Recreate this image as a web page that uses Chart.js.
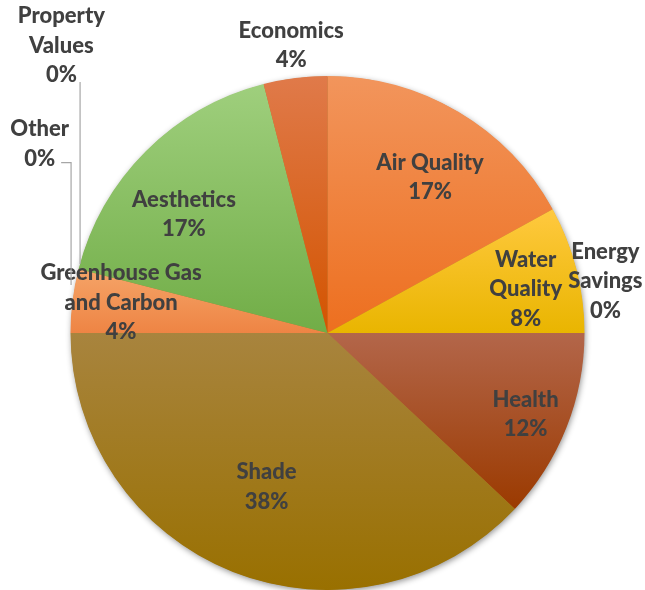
<!DOCTYPE html>
<html>
<head>
<meta charset="utf-8">
<script src="https://cdn.jsdelivr.net/npm/chart.js@4"></script>
<style>
  html, body { margin: 0; padding: 0; background: #fff; }
  #wrap { width: 645px; height: 590px; position: relative; }
</style>
</head>
<body>
<div id="wrap"><canvas id="benefitsPie"></canvas></div>
<script>
// Slices run clockwise from 12 o'clock
const categories = ['Air Quality', 'Water Quality', 'Energy Savings', 'Health', 'Shade',
  'Greenhouse Gas and Carbon', 'Other', 'Property Values', 'Aesthetics', 'Economics'];
const shares = [17, 8, 0, 12, 38, 4, 0, 0, 17, 4];
const labelLines = [
  ['Air Quality'], ['Water', 'Quality'], ['Energy', 'Savings'], ['Health'], ['Shade'],
  ['Greenhouse Gas', 'and Carbon'], ['Other'], ['Property', 'Values'], ['Aesthetics'], ['Economics']
];

// gradient stops, top of slice -> bottom of slice
const topColors = ['#f2955c', '#ffc93f', '#ffc000', '#b3664a', '#a8843e', '#f5a468', '#a5a5a5', '#4472c4', '#9fcf7d', '#e07a4a'];
const bottomColors = ['#ed6f1f', '#e9b500', '#e9b500', '#9b3a00', '#997000', '#ee8444', '#a5a5a5', '#4472c4', '#71ad47', '#d35400'];

// label placement: fraction of radius, and turn (degrees) off the slice middle
const labelRadius = [0.725, 0.79, 1.10, 0.833, 0.644, 0.812, 1.34, 1.524, 0.724, 1.128];
const labelTurn = [2.8, 1.9, -10.6, 0.7, 0, 1.2, 18.9, 32.8, -5.5, 0];

const TEXT_COLOR = '#404040';
const FONT = '900 22px Lato, "Open Sans", sans-serif';
const LINE_H = 29.5;

const total = shares.reduce(function (a, b) { return a + b; }, 0);

function sliceAngles(i) {
  var before = 0;
  for (var k = 0; k < i; k++) before += shares[k];
  var a0 = -Math.PI / 2 + 2 * Math.PI * before / total;
  var a1 = a0 + 2 * Math.PI * shares[i] / total;
  return [a0, a1];
}

// vertical extent of a slice, used for its gradient
function sliceSpan(cx, cy, r, i) {
  var ang = sliceAngles(i);
  var ys = [cy, cy + r * Math.sin(ang[0]), cy + r * Math.sin(ang[1])];
  [-Math.PI / 2, Math.PI / 2, 3 * Math.PI / 2].forEach(function (k) {
    if (k >= ang[0] && k <= ang[1]) ys.push(cy + r * Math.sin(k));
  });
  return [Math.min.apply(null, ys), Math.max.apply(null, ys)];
}

const pieShadow = {
  id: 'pieShadow',
  beforeDatasetsDraw: function (chart) {
    var arc = chart.getDatasetMeta(0).data[0];
    var c = chart.ctx;
    c.save();
    c.shadowColor = 'rgba(0,0,0,0.45)';
    c.shadowBlur = 6;
    c.shadowOffsetX = 1;
    c.shadowOffsetY = 2;
    c.fillStyle = '#b07a30';
    c.beginPath();
    c.arc(arc.x, arc.y, arc.outerRadius - 0.5, 0, Math.PI * 2);
    c.fill();
    c.restore();
  }
};

const sliceLabels = {
  id: 'sliceLabels',
  afterDatasetsDraw: function (chart) {
    var meta = chart.getDatasetMeta(0);
    var c = chart.ctx;
    c.save();
    c.font = FONT;
    c.fillStyle = TEXT_COLOR;
    c.textAlign = 'center';
    c.textBaseline = 'middle';

    meta.data.forEach(function (arc, i) {
      var mid = (arc.startAngle + arc.endAngle) / 2 + labelTurn[i] * Math.PI / 180;
      var rr = arc.outerRadius * labelRadius[i];
      var lx = arc.x + rr * Math.cos(mid);
      var ly = arc.y + rr * Math.sin(mid);
      var lines = labelLines[i].concat([Math.round(shares[i] / total * 100) + '%']);
      var y0 = ly - (lines.length - 1) * LINE_H / 2;
      lines.forEach(function (t, j) { c.fillText(t, lx, y0 + j * LINE_H); });

      // leader lines for the empty slices on the left
      if (shares[i] === 0 && (i === 6 || i === 7)) {
        var ax = arc.x + arc.outerRadius * Math.cos(arc.startAngle);
        var ay = arc.y + arc.outerRadius * Math.sin(arc.startAngle);
        var lastY = y0 + (lines.length - 1) * LINE_H;
        c.save();
        c.strokeStyle = '#a6a6a6';
        c.lineWidth = 1.2;
        c.beginPath();
        if (i === 7) {
          c.moveTo(ax + 1.5, lastY + 7);
          c.lineTo(ax + 1.5, ay - 5);
        } else {
          var w = c.measureText(lines[lines.length - 1]).width;
          c.moveTo(lx + w / 2 + 6, lastY + 4);
          c.lineTo(ax - 7.5, lastY + 4);
          c.lineTo(ax - 7.5, ay + 16);
        }
        c.stroke();
        c.restore();
      }
    });
    c.restore();
  }
};

new Chart(document.getElementById('benefitsPie').getContext('2d'), {
  type: 'pie',
  data: {
    labels: categories,
    datasets: [{
      data: shares,
      borderWidth: 0,
      hoverOffset: 0,
      backgroundColor: function (context) {
        var i = context.dataIndex;
        if (context.type !== 'data') return bottomColors[0];
        var area = context.chart.chartArea;
        if (!area) return bottomColors[i];
        var cx = (area.left + area.right) / 2;
        var cy = (area.top + area.bottom) / 2;
        var r = Math.min(area.width, area.height) / 2;
        var span = sliceSpan(cx, cy, r, i);
        var g = context.chart.ctx.createLinearGradient(0, span[0], 0, span[1] + 0.01);
        g.addColorStop(0, topColors[i]);
        g.addColorStop(1, bottomColors[i]);
        return g;
      }
    }]
  },
  options: {
    responsive: true,
    maintainAspectRatio: false,
    animation: false,
    layout: { padding: { top: 76, left: 70, right: 60, bottom: 0 } },
    plugins: {
      legend: { display: false },
      tooltip: { enabled: false }
    }
  },
  plugins: [pieShadow, sliceLabels]
});
</script>
</body>
</html>
